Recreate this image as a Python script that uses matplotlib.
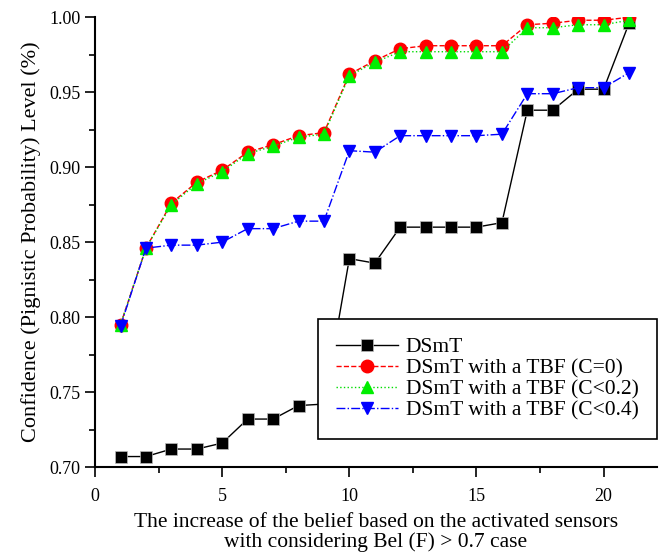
import matplotlib
matplotlib.use("Agg")
import matplotlib.pyplot as plt
from matplotlib.ticker import MultipleLocator

plt.rcParams['font.family'] = ['Liberation Serif', 'DejaVu Serif']

x = list(range(1, 22))
dsmt = [0.707, 0.707, 0.712, 0.712, 0.716, 0.732, 0.732, 0.741, 0.742, 0.839, 0.836,
        0.860, 0.860, 0.860, 0.860, 0.863, 0.938, 0.938, 0.952, 0.952, 0.996]
tbf_c0 = [0.795, 0.846, 0.876, 0.890, 0.898, 0.910, 0.915, 0.921, 0.923, 0.962, 0.971,
          0.979, 0.981, 0.981, 0.981, 0.981, 0.995, 0.996, 0.998, 0.998, 1.000]
tbf_c02 = [0.795, 0.846, 0.875, 0.889, 0.897, 0.909, 0.914, 0.920, 0.922, 0.961, 0.970,
           0.977, 0.977, 0.977, 0.977, 0.977, 0.993, 0.993, 0.995, 0.995, 0.998]
tbf_c04 = [0.794, 0.846, 0.848, 0.848, 0.850, 0.859, 0.859, 0.864, 0.864, 0.911, 0.910,
           0.921, 0.921, 0.921, 0.921, 0.922, 0.949, 0.949, 0.953, 0.953, 0.963]
labels = ['DSmT', 'DSmT with a TBF (C=0)', 'DSmT with a TBF (C<0.2)', 'DSmT with a TBF (C<0.4)']

fig = plt.figure(figsize=(6.65, 5.56), dpi=100)
ax = fig.add_axes([0.143, 0.160, 0.845, 0.809])

ax.plot(x, dsmt, '-', color='black', lw=1, marker='s', ms=8, mfc='black', mec='#bbbbbb', mew=0.5, label=labels[0])
ax.plot(x, tbf_c0, '--', color='red', lw=1, marker='o', ms=9, mfc='red', mec='red', label=labels[1])
ax.plot(x, tbf_c02, ':', color='#00dd00', lw=1, marker='^', ms=9, mfc='#00ee00', mec='#00ee00', label=labels[2])
ax.plot(x, tbf_c04, '-.', color='blue', lw=1, marker='v', ms=9, mfc='blue', mec='blue', label=labels[3])

ax.set_xlim(0, 22.1)
ax.set_ylim(0.70, 1.00)
ax.xaxis.set_major_locator(MultipleLocator(5))
ax.xaxis.set_minor_locator(MultipleLocator(2.5))
ax.yaxis.set_major_locator(MultipleLocator(0.05))
ax.yaxis.set_minor_locator(MultipleLocator(0.025))
ax.yaxis.set_major_formatter(plt.FormatStrFormatter('%.2f'))
ax.tick_params(which='major', direction='out', length=7, width=1.2, labelsize=13)
ax.tick_params(axis='x', which='major', pad=8)
ax.tick_params(which='minor', direction='out', length=4, width=1.2)

ax.spines['top'].set_visible(False)
ax.spines['right'].set_visible(False)
ax.spines['left'].set_linewidth(1.5)
ax.spines['bottom'].set_linewidth(1.5)

ax.set_xlabel('The increase of the belief based on the activated sensors\nwith considering Bel (F) > 0.7 case',
              fontsize=15.5, labelpad=6, linespacing=1.0)
ax.set_ylabel('Confidence (Pignistic Probability) Level (%)', fontsize=16, labelpad=6)

leg = ax.legend(loc='lower right', bbox_to_anchor=(1.0, 0.062), borderaxespad=0, fontsize=15.5,
                frameon=True, fancybox=False, framealpha=1, edgecolor='black', handlelength=2.9,
                borderpad=0.85, labelspacing=0.05, handletextpad=0.35)
leg.get_frame().set_linewidth(1.2)

fig.savefig('out.png', dpi=100)
